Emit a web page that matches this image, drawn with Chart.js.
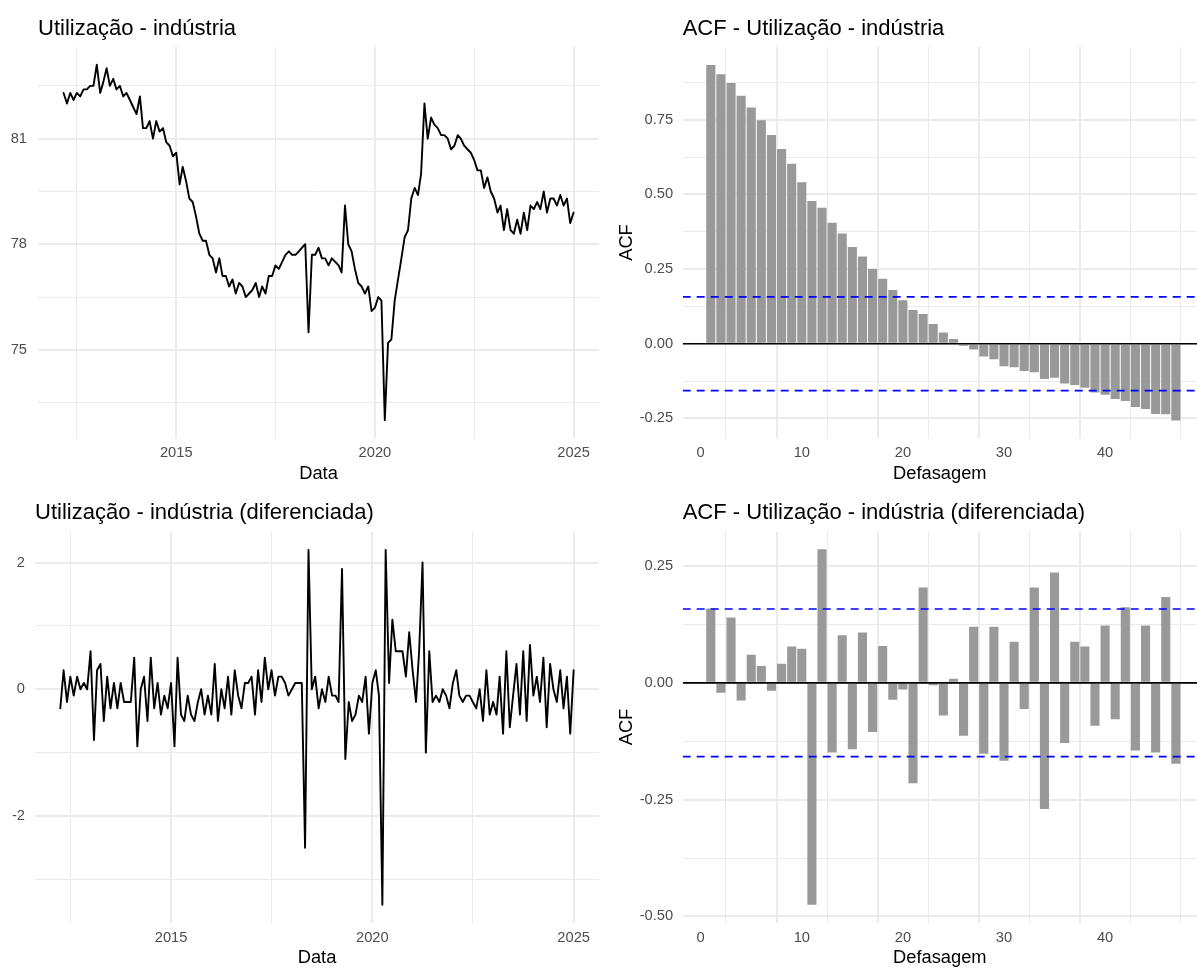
<!DOCTYPE html>
<html>
<head>
<meta charset="utf-8">
<script src="https://cdn.jsdelivr.net/npm/chart.js@4/dist/chart.umd.min.js"></script>
<style>
  html, body { margin: 0; padding: 0; background: #ffffff; }
  body { width: 1197px; height: 969px; position: relative; overflow: hidden; }
  canvas { position: absolute; display: block; }
</style>
</head>
<body>
<canvas id="cLevel" width="599" height="485" style="left:0px;top:0px"></canvas>
<canvas id="cAcfLevel" width="598" height="485" style="left:599px;top:0px"></canvas>
<canvas id="cDiff" width="599" height="484" style="left:0px;top:485px"></canvas>
<canvas id="cAcfDiff" width="598" height="484" style="left:599px;top:485px"></canvas>
<script>
// ---------------- DATA ----------------
const levelStart = [2012, 3];   // first month of the level series (year, month)
const levelValues = [
  82.3, 82.0, 82.3, 82.1, 82.3, 82.2, 82.4, 82.4, 82.5, 82.5,
  83.1, 82.3, 82.6, 83.0, 82.5, 82.7, 82.4, 82.5, 82.2, 82.3,
  82.1, 81.9, 81.7, 82.2, 81.3, 81.3, 81.5, 81.0, 81.5, 81.2,
  81.3, 80.9, 80.8, 80.5, 80.6, 79.7, 80.2, 79.8, 79.3, 79.2,
  78.8, 78.3, 78.1, 78.1, 77.7, 77.6, 77.2, 77.6, 77.1, 77.1,
  76.8, 77.0, 76.6, 76.9, 76.8, 76.5, 76.6, 76.7, 76.9, 76.5,
  76.8, 76.6, 77.1, 77.1, 77.4, 77.3, 77.5, 77.7, 77.8, 77.7,
  77.7, 77.8, 77.9, 78.0, 75.5, 77.7, 77.7, 77.9, 77.6, 77.6,
  77.4, 77.6, 77.5, 77.4, 77.2, 79.1, 78.0, 77.8, 77.3, 76.9,
  76.8, 76.6, 76.8, 76.1, 76.2, 76.5, 76.4, 73.0, 75.2, 75.3,
  76.4, 77.0, 77.6, 78.2, 78.4, 79.3, 79.6, 79.4, 80.0, 82.0,
  81.0, 81.6, 81.4, 81.3, 81.1, 81.1, 81.0, 80.7, 80.8, 81.1,
  81.0, 80.8, 80.7, 80.6, 80.4, 80.1, 80.1, 79.6, 79.9, 79.5,
  79.3, 78.9, 79.1, 78.4, 79.0, 78.4, 78.3, 78.7, 78.3, 78.9,
  78.4, 79.1, 79.0, 79.2, 79.0, 79.5, 78.9, 79.3, 79.3, 79.1,
  79.4, 79.1, 79.3, 78.6, 78.9
];

const diffStart = [2012, 4];    // first month of the differenced series
const diffValues = [
  -0.3, 0.3, -0.2, 0.2, -0.1, 0.2, 0.0, 0.1, 0.0, 0.6,
  -0.8, 0.3, 0.4, -0.5, 0.2, -0.3, 0.1, -0.3, 0.1, -0.2,
  -0.2, -0.2, 0.5, -0.9, 0.0, 0.2, -0.5, 0.5, -0.3, 0.1,
  -0.4, -0.1, -0.3, 0.1, -0.9, 0.5, -0.4, -0.5, -0.1, -0.4,
  -0.5, -0.2, 0.0, -0.4, -0.1, -0.4, 0.4, -0.5, 0.0, -0.3,
  0.2, -0.4, 0.3, -0.1, -0.3, 0.1, 0.1, 0.2, -0.4, 0.3,
  -0.2, 0.5, 0.0, 0.3, -0.1, 0.2, 0.2, 0.1, -0.1, 0.0,
  0.1, 0.1, 0.1, -2.5, 2.2, 0.0, 0.2, -0.3, 0.0, -0.2,
  0.2, -0.1, -0.1, -0.2, 1.9, -1.1, -0.2, -0.5, -0.4, -0.1,
  -0.2, 0.2, -0.7, 0.1, 0.3, -0.1, -3.4, 2.2, 0.1, 1.1,
  0.6, 0.6, 0.6, 0.2, 0.9, 0.3, -0.2, 0.6, 2.0, -1.0,
  0.6, -0.2, -0.1, -0.2, 0.0, -0.1, -0.3, 0.1, 0.3, -0.1,
  -0.2, -0.1, -0.1, -0.2, -0.3, 0.0, -0.5, 0.3, -0.4, -0.2,
  -0.4, 0.2, -0.7, 0.6, -0.6, -0.1, 0.4, -0.4, 0.6, -0.5,
  0.7, -0.1, 0.2, -0.2, 0.5, -0.6, 0.4, 0.0, -0.2, 0.3,
  -0.3, 0.2, -0.7, 0.3
];

const lags = [
  1, 2, 3, 4, 5, 6, 7, 8, 9, 10, 11, 12, 13, 14, 15, 16, 17, 18, 19, 20,
  21, 22, 23, 24, 25, 26, 27, 28, 29, 30, 31, 32, 33, 34, 35, 36, 37, 38, 39, 40,
  41, 42, 43, 44, 45, 46, 47
];
const acfLevel = [
  0.933, 0.902, 0.873, 0.830, 0.791, 0.748, 0.699, 0.652, 0.603, 0.541,
  0.478, 0.455, 0.405, 0.369, 0.324, 0.292, 0.250, 0.218, 0.180, 0.146,
  0.113, 0.100, 0.066, 0.038, 0.016, -0.007, -0.019, -0.043, -0.052, -0.075,
  -0.079, -0.091, -0.095, -0.118, -0.114, -0.133, -0.138, -0.147, -0.163, -0.171,
  -0.185, -0.192, -0.212, -0.218, -0.235, -0.236, -0.257
];
const acfDiff = [
  0.159, -0.021, 0.140, -0.038, 0.060, 0.036, -0.017, 0.041, 0.078, 0.073,
  -0.475, 0.286, -0.149, 0.102, -0.142, 0.108, -0.105, 0.079, -0.036, -0.014,
  -0.215, 0.204, -0.005, -0.070, 0.009, -0.113, 0.120, -0.152, 0.120, -0.167,
  0.088, -0.056, 0.204, -0.270, 0.236, -0.129, 0.088, 0.078, -0.092, 0.123,
  -0.078, 0.162, -0.145, 0.123, -0.149, 0.184, -0.173
];
const confLevel = 0.157;   // significance band of the level ACF
const confDiff = 0.158;    // significance band of the differenced ACF

// tick positions (grid lines) and the ones that carry a label
const dateTicks = [2012.5, 2015, 2017.5, 2020, 2022.5, 2025];
const dateLabels = [2015, 2020, 2025];
const levelYTicks = [73.5, 75, 76.5, 78, 79.5, 81, 82.5];
const levelYLabels = [75, 78, 81];
const diffYTicks = [-3, -2, -1, 0, 1, 2];
const diffYLabels = [-2, 0, 2];
const lagTicks = [0, 5, 10, 15, 20, 25, 30, 35, 40, 45];
const lagLabels = [0, 10, 20, 30, 40];
const acfLevelYTicks = [-0.25, -0.125, 0, 0.125, 0.25, 0.375, 0.5, 0.625, 0.75, 0.875];
const acfLevelYLabels = [-0.25, 0, 0.25, 0.5, 0.75];
const acfDiffYTicks = [-0.5, -0.375, -0.25, -0.125, 0, 0.125, 0.25];
const acfDiffYLabels = [-0.5, -0.25, 0, 0.25];

// ---------------- STYLE / HELPERS ----------------
const FONT = '"Liberation Sans", Arial, Helvetica, sans-serif';
const TICK_COLOR = '#4D4D4D';
const GRID_COLOR = '#EBEBEB';
Chart.defaults.font.family = FONT;

function monthDates(start, n) {
  const out = [];
  for (let i = 0; i < n; i++) {
    const y = start[0] + Math.floor((start[1] - 1 + i) / 12);
    const m = (start[1] - 1 + i) % 12;
    const t0 = Date.UTC(y, 0, 1), t1 = Date.UTC(y + 1, 0, 1);
    out.push(y + (Date.UTC(y, m, 1) - t0) / (t1 - t0));
  }
  return out;
}
function has(list, v) { return list.some(x => Math.abs(x - v) < 1e-9); }
function fixedTicks(values) { return s => { s.ticks = values.map(v => ({ value: v })); }; }
function fitTo(size) {
  return s => {
    if (s.isHorizontal()) s.height = size; else s.width = size;
    s.paddingLeft = 0; s.paddingRight = 0; s.paddingTop = 0; s.paddingBottom = 0;
  };
}
function gridOpts(majors) {
  return {
    color: GRID_COLOR,
    lineWidth: c => (c.tick && has(majors, c.tick.value)) ? 2 : 1,
    drawTicks: false
  };
}
function tickOpts(labels, fmt, pad) {
  return {
    autoSkip: false, maxRotation: 0, minRotation: 0, padding: pad,
    color: TICK_COLOR, font: { family: FONT, size: 14.7, lineHeight: 1.2 },
    callback: v => has(labels, v) ? fmt(v) : ''
  };
}
function titleOpts(text, padTop, padBottom) {
  return {
    display: true, text: text, align: 'start', fullSize: false, color: '#000000',
    font: { family: FONT, size: 22, weight: 'normal', lineHeight: 1.2 },
    padding: { top: padTop, bottom: padBottom }
  };
}
function axisTitle(text, pad) {
  return { display: true, text: text, color: '#000000',
    font: { family: FONT, size: 18.3, weight: 'normal', lineHeight: 1.2 }, padding: pad };
}
const baseOpts = {
  responsive: false, maintainAspectRatio: false, animation: false, devicePixelRatio: 1,
  events: [], layout: { padding: 0 }
};

function lineChart(id, p) {
  const xs = monthDates(p.start, p.values.length);
  return new Chart(document.getElementById(id), {
    type: 'line',
    data: { datasets: [{
      data: p.values.map((v, i) => ({ x: xs[i], y: v })),
      borderColor: '#000000', borderWidth: 1.9, pointRadius: 0, tension: 0,
      borderJoinStyle: 'round', borderCapStyle: 'round', fill: false
    }] },
    options: Object.assign({}, baseOpts, {
      plugins: { legend: { display: false }, tooltip: { enabled: false },
        title: titleOpts(p.title, p.titlePad[0], p.titlePad[1]) },
      scales: {
        x: { type: 'linear', min: p.xMin, max: p.xMax, offset: false,
          afterBuildTicks: fixedTicks(dateTicks), afterFit: fitTo(p.xAxisH),
          ticks: tickOpts(dateLabels, v => String(v), 6.2),
          grid: gridOpts(dateLabels), border: { display: false },
          title: axisTitle('Data', { top: 0, bottom: 0 }) },
        y: { type: 'linear', min: p.yMin, max: p.yMax,
          afterBuildTicks: fixedTicks(p.yTicks), afterFit: fitTo(p.yAxisW),
          ticks: tickOpts(p.yLabels, v => String(v), p.yPad),
          grid: gridOpts(p.yLabels), border: { display: false } }
      }
    })
  });
}

function acfChart(id, p) {
  const xMin = p.xMin, xMax = p.xMax;
  const hline = (y, color, dash, order) => ({
    type: 'line', data: [{ x: xMin, y: y }, { x: xMax, y: y }],
    borderColor: color, borderWidth: 1.6, borderDash: dash, borderCapStyle: 'butt',
    pointRadius: 0, fill: false, order: order
  });
  return new Chart(document.getElementById(id), {
    type: 'bar',
    data: { datasets: [
      hline(p.conf, '#0000FF', [8, 6], 1),
      hline(-p.conf, '#0000FF', [8, 6], 1),
      hline(0, '#000000', [], 2),
      { type: 'bar', data: lags.map((l, i) => ({ x: l, y: p.values[i] })),
        backgroundColor: '#999999', borderWidth: 0,
        barPercentage: 0.9, categoryPercentage: 1.0, order: 3 }
    ] },
    options: Object.assign({}, baseOpts, {
      plugins: { legend: { display: false }, tooltip: { enabled: false },
        title: titleOpts(p.title, p.titlePad[0], p.titlePad[1]) },
      scales: {
        x: { type: 'linear', min: xMin, max: xMax, offset: false,
          afterBuildTicks: fixedTicks(lagTicks), afterFit: fitTo(p.xAxisH),
          ticks: tickOpts(lagLabels, v => String(v), 6.2),
          grid: gridOpts(lagLabels), border: { display: false },
          title: axisTitle('Defasagem', { top: 0, bottom: 0 }) },
        y: { type: 'linear', min: p.yMin, max: p.yMax,
          afterBuildTicks: fixedTicks(p.yTicks), afterFit: fitTo(83.7),
          ticks: tickOpts(p.yLabels, v => v.toFixed(2), 9.5),
          grid: gridOpts(p.yLabels), border: { display: false },
          title: axisTitle('ACF', { top: 16.7, bottom: 0 }) }
      }
    })
  });
}

lineChart('cLevel', {
  title: 'Utilização - indústria', titlePad: [15.7, 4.9], start: levelStart, values: levelValues,
  xMin: 2011.52, xMax: 2025.64, yMin: 72.495, yMax: 83.605,
  yTicks: levelYTicks, yLabels: levelYLabels, yAxisW: 38, yPad: 11, xAxisH: 47
});
lineChart('cDiff', {
  title: 'Utilização - indústria (diferenciada)', titlePad: [15.2, 4.9], start: diffStart, values: diffValues,
  xMin: 2011.62, xMax: 2025.63, yMin: -3.68, yMax: 2.49,
  yTicks: diffYTicks, yLabels: diffYLabels, yAxisW: 35, yPad: 10, xAxisH: 46.5
});
acfChart('cAcfLevel', {
  title: 'ACF - Utilização - indústria', titlePad: [15.7, 4.9], values: acfLevel, conf: confLevel,
  xMin: -1.78, xMax: 49.09, yMin: -0.3155, yMax: 0.9935,
  yTicks: acfLevelYTicks, yLabels: acfLevelYLabels, xAxisH: 47
});
acfChart('cAcfDiff', {
  title: 'ACF - Utilização - indústria (diferenciada)', titlePad: [15.2, 4.9], values: acfDiff, conf: confDiff,
  xMin: -1.78, xMax: 49.09, yMin: -0.513, yMax: 0.324,
  yTicks: acfDiffYTicks, yLabels: acfDiffYLabels, xAxisH: 46.5
});
</script>
</body>
</html>
